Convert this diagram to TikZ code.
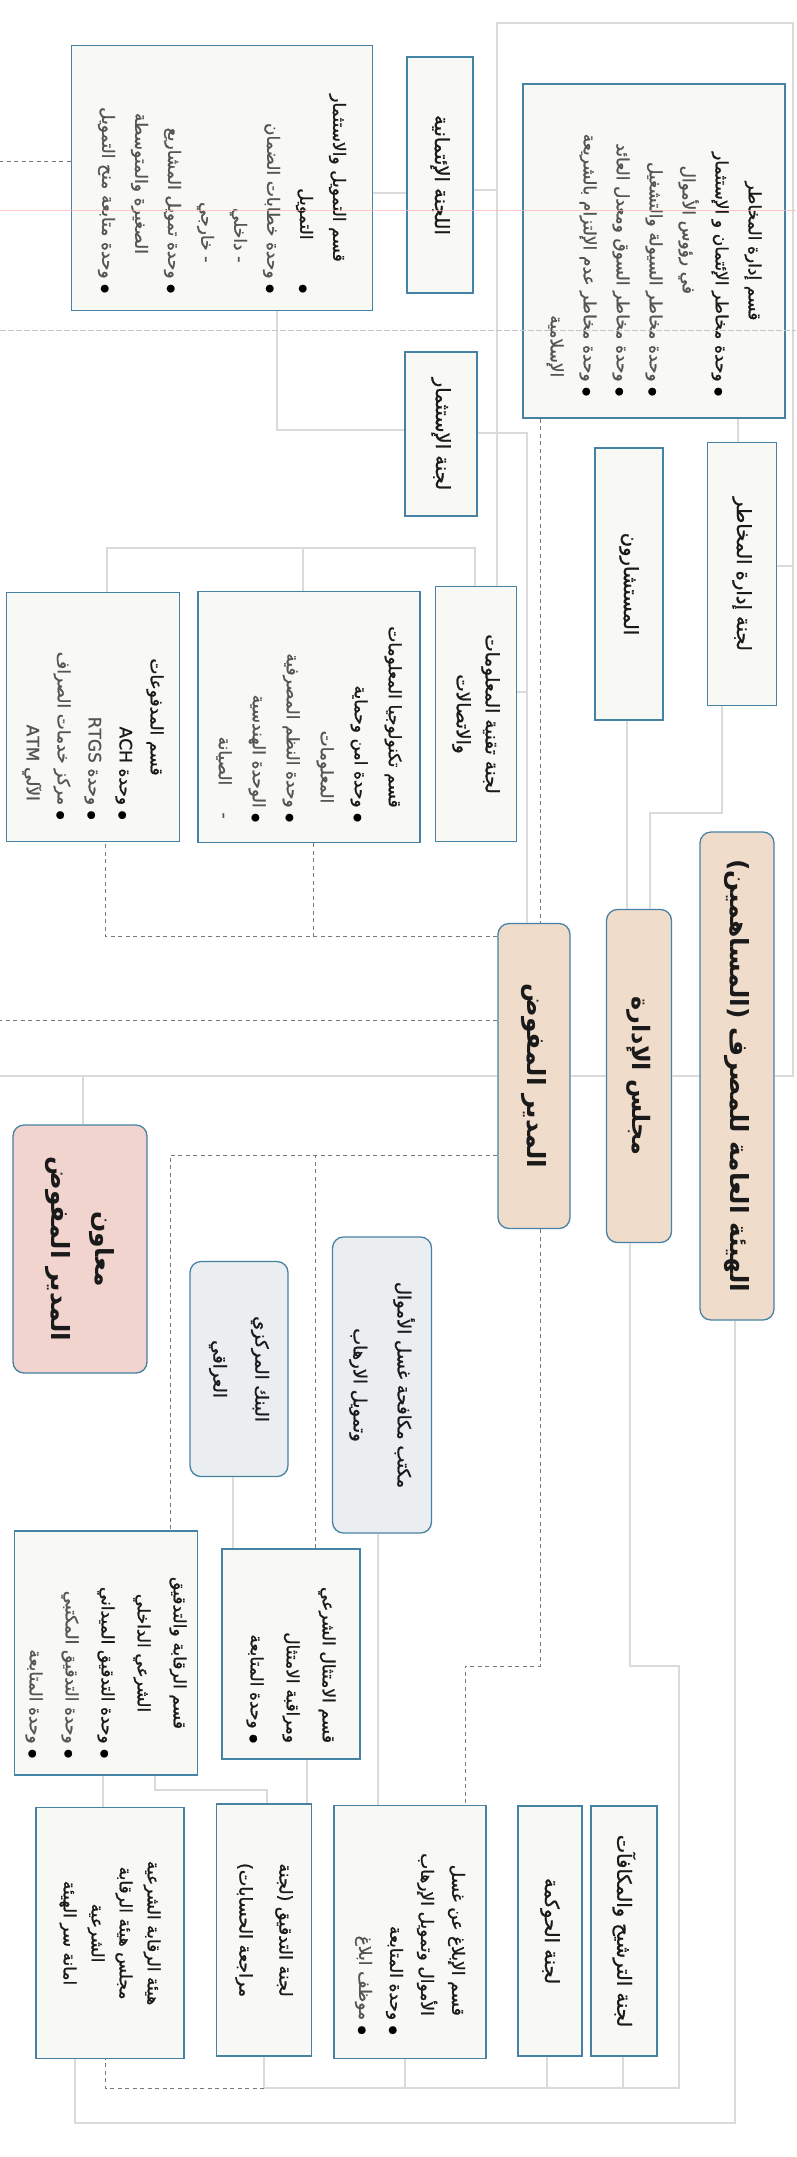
\documentclass[tikz,border=0pt]{standalone}
\usepackage{fontspec}
\TeXXeTstate=1
\newfontfamily\arabicfont[Script=Arabic, FakeBold=1.2]{DejaVu Sans}
\newfontfamily\arabicbold[Script=Arabic]{DejaVu Sans Bold}
\definecolor{boxblue}{HTML}{4682A4}
\definecolor{boxfill}{HTML}{F8F8F5}
\definecolor{peach}{HTML}{F0DCCA}
\definecolor{pinkish}{HTML}{F1D4CE}
\definecolor{paleblue}{HTML}{EAEEF0}
\definecolor{lineg}{HTML}{8E8E8E}
\definecolor{linel}{HTML}{DADADA}
\definecolor{txt}{HTML}{1A1A1A}
\definecolor{bulgray}{HTML}{555555}
\newcommand{\AR}[1]{\mbox{\beginR#1\endR}}
\newcommand{\bul}{{\fontsize{10}{10}\selectfont\textcolor{bulgray}{●}}\ }
\tikzset{
 box/.style={draw=boxblue, line width=1.3pt, fill=boxfill, rotate=-90, inner sep=0pt, text=txt,
   font=\arabicfont\fontsize{17}{33}\selectfont},
 rbox/.style={box, rounded corners=11pt},
 sz/.style 2 args={minimum width=#1pt, minimum height=#2pt},
 lbl/.style={font=\arabicfont\fontsize{19.5}{30}\selectfont},
 title/.style={font=\arabicbold\fontsize{25}{44}\selectfont},
 conn/.style={draw=lineg, double=linel, line width=0.6pt, double distance=1.6pt},
 dconn/.style={draw=lineg!85!black, line width=0.9pt, dash pattern=on 4pt off 3.5pt},
}
\begin{document}
\begin{tikzpicture}[x=1pt,y=-1pt]
\fill[white] (0,0) rectangle (796,2157);
\useasboundingbox (0,0) rectangle (796,2157);

% ---------- top group (board committees) ----------
\node[box, sz={334}{262}, text width=290pt] (riskdept) at (654,251) {\parindent=0pt
{\centering\AR{قسم إدارة المخاطر}\par}
\raggedleft
\AR{\bul وحدة مخاطر الإئتمان و الإستثمار}\\
\AR{\hspace*{6em}في رؤوس الأموال}\\
\AR{\bul وحدة مخاطر السيولة والتشغيل}\\
\AR{\bul وحدة مخاطر السوق ومعدل العائد}\\
\AR{\bul وحدة مخاطر عدم الإلتزام بالشريعة}\\
\AR{\hspace*{1.1em}الإسلامية}\par};

\node[box, lbl, sz={263}{69}, align=center] (riskcom) at (742,574) {\AR{لجنة إدارة المخاطر}};
\node[box, lbl, sz={272}{68}, align=center] (consult) at (629,584) {\AR{المستشارون}};
\node[box, lbl, sz={236}{66}, align=center] (credit) at (440,175) {\AR{اللجنة الإئتمانية}};
\node[box, lbl, sz={164}{72}, align=center] (invest) at (441,434) {\AR{لجنة الإستثمار}};

\node[box, sz={265}{301}, text width=230pt] (finance) at (222,178) {\parindent=0pt
{\centering\AR{قسم التمويل والاستثمار}\par}
\raggedleft
\AR{\bul\hspace*{2.3em}التمويل}\\
\AR{\bul وحدة خطابات الضمان}\\
\AR{\hspace*{1.8em}- داخلي}\\
\AR{\hspace*{1.8em}- خارجي}\\
\AR{\bul وحدة تمويل المشاريع}\\
\AR{\hspace*{2.3em}الصغيرة والمتوسطة}\\
\AR{\bul وحدة متابعة منح التمويل}\par};

\node[box, sz={255}{81}, align=center, font=\arabicfont\fontsize{18.5}{29}\selectfont] (itcom) at (476,714)
  {\AR{لجنة تقنية المعلومات}\\\AR{والاتصالات}};

\node[box, sz={251}{222}, text width=210pt, font=\arabicfont\fontsize{17}{34}\selectfont] (itdept) at (309,717) {\parindent=0pt
{\centering\AR{قسم تكنولوجيا المعلومات}\par}
\raggedleft
\AR{\bul وحدة امن وحماية}\\
\AR{\hspace*{1.1em}المعلومات}\\
\AR{\bul وحدة النظم المصرفية}\\
\AR{\bul الوحدة الهندسية}\\
\AR{\hspace*{0.2em}-\hspace*{1.6em}الصيانة}\par};

\node[box, sz={249}{173}, text width=205pt, font=\arabicfont\fontsize{17}{31}\selectfont] (payments) at (93,717) {\parindent=0pt
{\centering\AR{قسم المدفوعات}\par}
\raggedleft
\AR{\bul وحدة \beginL ACH\endL}\\
\AR{\bul وحدة \beginL RTGS\endL}\\
\AR{\bul مركز خدمات الصراف}\\
\AR{\hspace*{1.1em}الآلي \beginL ATM\endL}\par};

% ---------- main spine ----------
\node[rbox, fill=peach, sz={488}{74}, title] (ga) at (737,1076) {\AR{الهيئة العامة للمصرف (المساهمين)}};
\node[rbox, fill=peach, sz={333}{65}, font=\arabicbold\fontsize{24}{30}\selectfont] (board) at (639,1076) {\AR{مجلس الإدارة}};
\node[rbox, fill=peach, sz={305}{72}, title] (md) at (534,1076) {\AR{المدير المفوض}};
\node[rbox, fill=pinkish, sz={248}{134}, title, align=center] (asst) at (80,1249) {\AR{معاون}\\\AR{المدير المفوض}};

\node[rbox, fill=paleblue, sz={215}{98}, align=center, font=\arabicfont\fontsize{18}{42}\selectfont] (cbank) at (239,1369)
  {\AR{البنك المركزي}\\\AR{العراقي}};
\node[rbox, fill=paleblue, sz={296}{99}, align=center, font=\arabicfont\fontsize{18}{44}\selectfont] (aml) at (382,1385)
  {\AR{مكتب مكافحة غسل الأموال}\\\AR{وتمويل الارهاب}};

% ---------- lower group ----------
\node[box, sz={244}{183}, text width=210pt, font=\arabicfont\fontsize{17}{36}\selectfont] (auditdept) at (106,1653) {\parindent=0pt
{\centering\AR{قسم الرقابة والتدقيق}\\\AR{الشرعي الداخلي}\par}
\raggedleft
\AR{\bul وحدة التدقيق الميداني}\\
\AR{\bul وحدة التدقيق المكتبي}\\
\AR{\bul وحدة المتابعة}\par};

\node[box, sz={210}{138}, text width=178pt, font=\arabicfont\fontsize{17}{36}\selectfont] (shcomp) at (291,1654) {\parindent=0pt
\raggedleft
\AR{قسم الامتثال الشرعي}\\
\AR{ومراقبة الامتثال}\\
\AR{\bul وحدة المتابعة}\par};

\node[box, sz={251}{148}, align=center, font=\arabicfont\fontsize{17}{28}\selectfont] (shboard) at (110,1933)
  {\AR{هيئة الرقابة الشرعية}\\\AR{مجلس هيئة الرقابة}\\\AR{الشرعية}\\\AR{امانة سر الهيئة}};
\node[box, sz={252}{95}, align=center, font=\arabicfont\fontsize{17.5}{40}\selectfont] (auditcom) at (264,1930)
  {\AR{لجنة التدقيق (لجنة}\\\AR{مراجعة الحسابات)}};

\node[box, sz={253}{152}, text width=205pt, font=\arabicfont\fontsize{17}{31}\selectfont] (report) at (410,1932) {\parindent=0pt
\raggedleft
\AR{\hspace*{1.1em}قسم الإبلاغ عن غسل}\\
\AR{\hspace*{1.1em}الأموال وتمويل الإرهاب}\\
\AR{\bul وحدة المتابعة}\\
\AR{\bul موظف ابلاغ}\par};

\node[box, lbl, sz={250}{64}, align=center] (govern) at (550,1931) {\AR{لجنة الحوكمة}};
\node[box, lbl, sz={250}{66}, align=center] (nomin) at (624,1931) {\AR{لجنة الترشيح والمكافآت}};

% ---------- solid connectors ----------
\draw[conn] (credit.north |- 0,190) -- (497,190);
\draw[conn] (finance.north |- 0,193) -- (credit.south |- 0,193);
\draw[conn] (finance.east -| 277,0) -- (277,430) -- (invest.south |- 0,430);
\draw[conn] (itcom.west -| 497,0) -- (497,23) -- (793,23) -- (793,1076) -- (ga.north);
\draw[conn] (riskcom.north |- 0,566) -- (793,566);
\draw[conn] (invest.north |- 0,433) -- (527,433) -- (md.west -| 527,0);
\draw[conn] (itcom.north |- 0,692) -- (527,692);
\draw[conn] (payments.west -| 107,0) -- (107,548) -- (475,548) -- (itcom.west -| 475,0);
\draw[conn] (itdept.west -| 303,0) -- (303,548);
\draw[conn] (riskdept.east -| 738,0) -- (riskcom.west -| 738,0);
\draw[conn] (consult.east -| 627,0) -- (board.west -| 627,0);
\draw[conn] (riskcom.east -| 722,0) -- (722,813) -- (650,813) -- (board.west -| 650,0);
\draw[conn] (ga.south) -- (board.north);
\draw[conn] (board.south) -- (md.north);
\draw[conn] (md.south) -- (md.south -| 0,0);
\draw[conn] (asst.west -| 83,0) -- (md.south -| 83,0);
\draw[conn] (cbank.east -| 233,0) -- (shcomp.west -| 233,0);
\draw[conn] (aml.east -| 378,0) -- (report.west -| 378,0);
\draw[conn] (shcomp.east -| 307,0) -- (auditcom.west -| 307,0);
\draw[conn] (auditdept.east -| 103,0) -- (shboard.west -| 103,0);
\draw[conn] (auditdept.east -| 155,0) -- (155,1790) -- (267,1790) -- (auditcom.west -| 267,0);
\draw[conn] (board.east -| 630,0) -- (630,1666) -- (679,1666) -- (679,2088) -- (264,2088);
\draw[conn] (auditcom.east -| 264,0) -- (264,2088);
\draw[conn] (report.east -| 405,0) -- (405,2088);
\draw[conn] (govern.east -| 547,0) -- (547,2088);
\draw[conn] (nomin.east -| 623,0) -- (623,2088);
\draw[conn] (ga.east -| 735,0) -- (735,2123) -- (75,2123) -- (shboard.east -| 75,0);

% ---------- dashed connectors ----------
\draw[dconn] (264,2088) -- (105,2088) -- (shboard.east -| 105,0);
\draw[dconn] (riskdept.east -| 540,0) -- (md.west -| 540,0);
\draw[dconn] (md.south |- 0,936) -- (105,936) -- (payments.east -| 105,0);
\draw[dconn] (itdept.east -| 313,0) -- (313,936);
\draw[dconn] (md.south |- 0,1020) -- (0,1020);
\draw[dconn] (md.south |- 0,1155) -- (170,1155) -- (auditdept.west -| 170,0);
\draw[dconn] (shcomp.west -| 315,0) -- (315,1155);
\draw[dconn] (md.east -| 540,0) -- (540,1666) -- (465,1666) -- (report.west -| 465,0);
\draw[dconn] (finance.south |- 0,161) -- (0,161);

% faint scan lines
\draw[red!30, line width=0.5pt, opacity=0.7] (0,210) -- (796,210);
\draw[gray!45, line width=0.5pt, dash pattern=on 6pt off 2pt] (0,330) -- (796,330);
\end{tikzpicture}
\end{document}
